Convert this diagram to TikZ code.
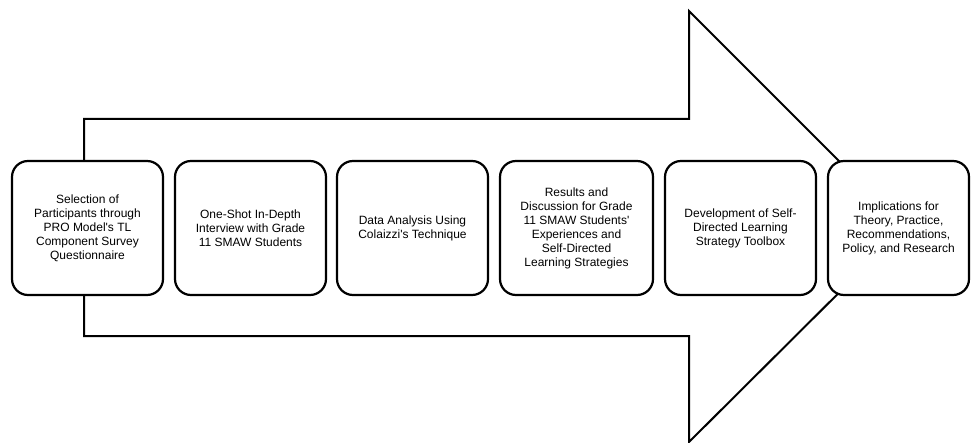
\documentclass[tikz,border=0pt]{standalone}
\usepackage{fontspec}
\setmainfont{Liberation Sans}
\begin{document}
\begin{tikzpicture}[x=1pt,y=-1pt,
  stepbox/.style={draw=black, line width=2.2pt, fill=white, rounded corners=16pt,
    minimum height=134pt, align=center, inner sep=0pt,
    font=\fontsize{12pt}{14pt}\selectfont},
  bigarrow/.style={draw=black, line width=2pt, line join=miter}]
\useasboundingbox (0,0) rectangle (971,443);
% big arrow outline
\coordinate (a1) at (84,119);
\coordinate (a2) at (689,119);
\coordinate (a3) at (689,11);
\coordinate (a4) at (905,227);
\coordinate (a5) at (689,442);
\coordinate (a6) at (689,336);
\coordinate (a7) at (84,336);
\draw[bigarrow] (a1) -- (a2) -- (a3) -- (a4) -- (a5) -- (a6) -- (a7) -- cycle;
% step boxes
\node[stepbox, minimum width=151pt] (b1) at (87.5,228)
  {Selection of\\Participants through\\PRO Model\textquotesingle s TL\\Component Survey\\Questionnaire};
\node[stepbox, minimum width=151pt] (b2) at (250.5,228)
  {One-Shot In-Depth\\Interview with Grade\\11 SMAW Students};
\node[stepbox, minimum width=151pt] (b3) at (412.5,228)
  {Data Analysis Using\\Colaizzi\textquotesingle s Technique};
\node[stepbox, minimum width=153pt] (b4) at (576.5,228)
  {Results and\\Discussion for Grade\\11 SMAW Students\textquotesingle\\Experiences and\\Self-Directed\\Learning Strategies};
\node[stepbox, minimum width=151pt] (b5) at (740.5,228)
  {Development of Self-\\Directed Learning\\Strategy Toolbox};
\node[stepbox, minimum width=141pt] (b6) at (898.5,228)
  {Implications for\\Theory, Practice,\\Recommendations,\\Policy, and Research};
\end{tikzpicture}
\end{document}
